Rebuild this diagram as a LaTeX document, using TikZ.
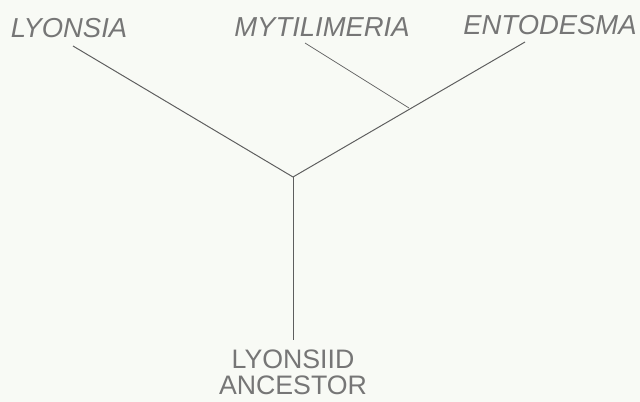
\documentclass[tikz,border=0pt]{standalone}
\usepackage{fontspec}
\setmainfont{Liberation Sans}
\definecolor{paper}{RGB}{248,250,245}
\definecolor{ink}{RGB}{118,118,118}
\begin{document}
\begin{tikzpicture}[x=0.025cm,y=-0.025cm,
    taxon/.style={text=ink,font=\fontsize{19.5}{22}\selectfont\itshape,inner sep=0pt},
    root/.style={text=ink,font=\fontsize{19}{18.5}\selectfont,align=center,inner sep=0pt},
    branch/.style={draw=ink!80!black,line width=0.7pt}]
  % Page and background.
  \fill[paper] (0,0) rectangle (640,402);
  \useasboundingbox (0,0) rectangle (640,402);
  % Branching points and free ends.
  \coordinate (base) at (293,177);
  \coordinate (fork) at (409,108);
  \coordinate (lyoEnd) at (73,46);
  \coordinate (mytEnd) at (305,43);
  \coordinate (entEnd) at (525,42);
  \coordinate (ancEnd) at (293,340);
  % Taxon names.
  \node[taxon] (lyonsia) at (69,28) {LYONSIA};
  \node[taxon] (mytilimeria) at (322,27) {MYTILIMERIA};
  \node[taxon] (entodesma) at (550,25) {ENTODESMA};
  \node[root,anchor=south] (ancestor) at (293,395) {LYONSIID\\ANCESTOR};
  % Tree.
  \draw[branch] (lyoEnd) -- (base);
  \draw[branch] (entEnd) -- (base);
  \draw[branch,line width=0.5pt] (mytEnd) -- (fork);
  \draw[branch] (base) -- (ancEnd);
\end{tikzpicture}
\end{document}
